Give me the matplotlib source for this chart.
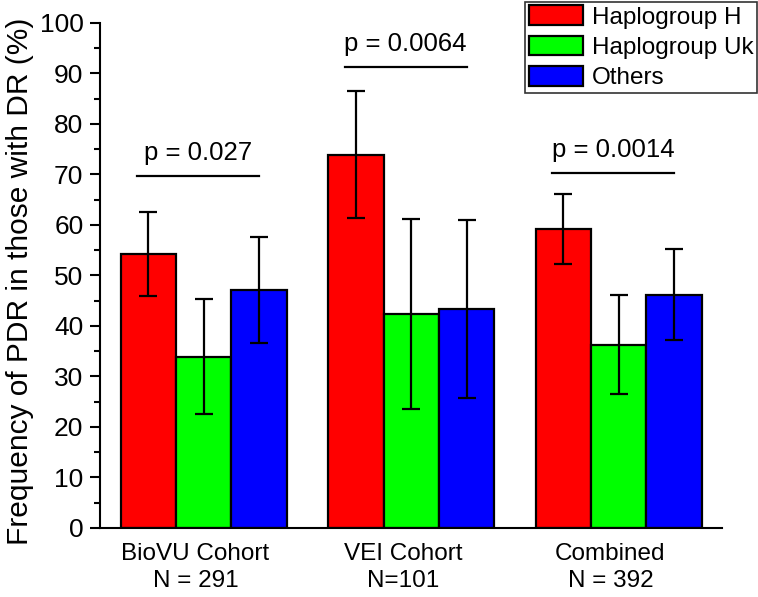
import numpy as np
import matplotlib
matplotlib.use("Agg")
from matplotlib import pyplot as plt
from matplotlib.ticker import MultipleLocator

plt.rcParams['font.family'] = ['Liberation Sans', 'DejaVu Sans']

cohorts = ["BioVU Cohort\nN = 291", "VEI Cohort\nN=101", "Combined\nN = 392"]
groups = ["Haplogroup H", "Haplogroup Uk", "Others"]
colors = ["#ff0000", "#00ff00", "#0000ff"]

haplo_h = [54.3, 73.9, 59.2]
haplo_uk = [33.9, 42.3, 36.3]
others = [47.1, 43.4, 46.2]
err_h = [8.3, 12.6, 7.0]
err_uk = [11.4, 18.8, 9.8]
err_others = [10.5, 17.6, 9.0]

p_texts = ["p = 0.027", "p = 0.0064", "p = 0.0014"]
p_levels = [69.7, 91.3, 70.2]

values = [haplo_h, haplo_uk, others]
errors = [err_h, err_uk, err_others]

fig = plt.figure(figsize=(7.58, 5.97), dpi=100)
ax = fig.add_axes([0.132, 0.1156, 0.821, 0.8459])

x = np.arange(len(cohorts))
w = 0.267
for i in range(3):
    ax.bar(x + (i - 1) * w, values[i], w, color=colors[i], edgecolor="black",
           linewidth=1.6, label=groups[i], zorder=2)
    ax.errorbar(x + (i - 1) * w, values[i], yerr=errors[i], fmt="none",
                ecolor="black", elinewidth=1.6, capsize=6.5, capthick=1.6, zorder=3)

# significance lines over the H vs Others bars
for j in range(3):
    x0 = x[j] - w * 1.2
    x1 = x[j] + w * 1.0
    ax.plot([x0, x1], [p_levels[j], p_levels[j]], color="black", lw=1.6, zorder=3)
    ax.text((x0 + x1) / 2, p_levels[j] + 2.2, p_texts[j], ha="center", va="bottom",
            fontsize=18.5)

ax.set_xlim(-0.5, 2.5)
ax.set_ylim(0, 100)
ax.set_xticks(x - 0.04)
ax.set_xticklabels(cohorts, fontsize=17.5, linespacing=1.3)
ax.tick_params(axis="x", length=0, pad=11)
ax.yaxis.set_major_locator(MultipleLocator(10))
ax.yaxis.set_minor_locator(MultipleLocator(5))
ax.tick_params(axis="y", which="major", direction="out", length=7, width=1.5,
               labelsize=19, pad=5)
ax.tick_params(axis="y", which="minor", direction="out", length=4, width=1.5)
ax.set_ylabel("Frequency of PDR in those with DR (%)", fontsize=21.5)
ax.yaxis.set_label_coords(-0.106, 0.488)

ax.spines["top"].set_visible(False)
ax.spines["right"].set_visible(False)
ax.spines["left"].set_linewidth(1.5)
ax.spines["bottom"].set_linewidth(1.5)

leg = fig.legend(loc="upper right", bbox_to_anchor=(0.999, 0.997), fontsize=17.5,
                 frameon=True, fancybox=False, edgecolor="black",
                 handlelength=2.25, handleheight=0.85, borderaxespad=0,
                 labelspacing=0.3, handletextpad=0.35, borderpad=0.15)
leg.get_frame().set_linewidth(1.2)

fig.savefig("out.png", dpi=100)
